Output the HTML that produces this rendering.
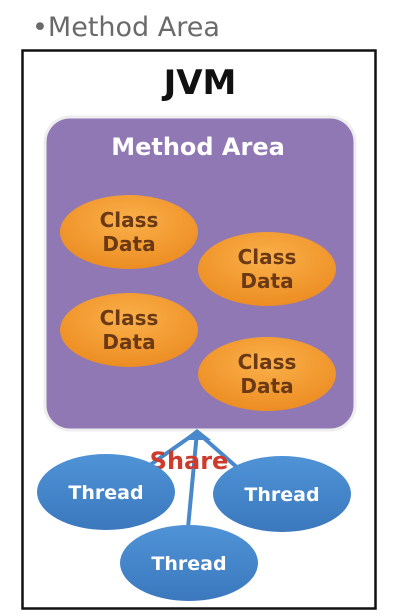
<!DOCTYPE html>
<html><head><style>
html,body{margin:0;padding:0;background:#fff;}
svg{display:block;}
text{font-family:"DejaVu Sans","Liberation Sans",sans-serif;}
</style></head><body>
<svg width="400" height="614" viewBox="0 0 400 614" xmlns="http://www.w3.org/2000/svg">
<defs>
<radialGradient id="og" cx="50%" cy="35%" r="65%">
<stop offset="0" stop-color="#fbb04a"/><stop offset="1" stop-color="#ec8d22"/>
</radialGradient>
<linearGradient id="bg" x1="0" y1="0" x2="0" y2="1">
<stop offset="0" stop-color="#4f93d6"/><stop offset="1" stop-color="#3b78bd"/>
</linearGradient>
</defs>
<text x="32" y="36" font-size="27" fill="#6a6a6a">•Method Area</text>
<rect x="22.5" y="50.5" width="353" height="558" fill="#fff" stroke="#111" stroke-width="2.5"/>
<text x="200" y="94" font-size="34" font-weight="bold" text-anchor="middle" fill="#111">JVM</text>
<rect x="45" y="117" width="310" height="313" rx="25" fill="#8f78b4" stroke="#eee" stroke-width="3"/>
<text x="198" y="155" font-size="24" font-weight="bold" text-anchor="middle" fill="#fff">Method Area</text>
<g font-size="20" font-weight="bold" fill="#6b3a14" text-anchor="middle">
<ellipse cx="129" cy="232" rx="69" ry="37" fill="url(#og)"/>
<text x="129" y="227">Class</text><text x="129" y="251">Data</text>
<ellipse cx="267" cy="269" rx="69" ry="37" fill="url(#og)"/>
<text x="267" y="264">Class</text><text x="267" y="288">Data</text>
<ellipse cx="129" cy="330" rx="69" ry="37" fill="url(#og)"/>
<text x="129" y="325">Class</text><text x="129" y="349">Data</text>
<ellipse cx="267" cy="374" rx="69" ry="37" fill="url(#og)"/>
<text x="267" y="369">Class</text><text x="267" y="393">Data</text>
</g>
<g stroke="#4a88cc" stroke-width="4" fill="none">
<line x1="150" y1="465" x2="197" y2="432"/>
<line x1="188" y1="528" x2="197" y2="432"/>
<line x1="240" y1="470" x2="197" y2="432"/>
</g>
<polygon points="197,429 183,440 211,440" fill="#4a88cc"/>
<text x="189" y="469" font-size="24" font-weight="bold" text-anchor="middle" fill="#cc3b2c">Share</text>
<g font-size="19" font-weight="bold" fill="#fff" text-anchor="middle">
<ellipse cx="106" cy="492" rx="69" ry="38" fill="url(#bg)"/>
<text x="106" y="499">Thread</text>
<ellipse cx="282" cy="494" rx="69" ry="38" fill="url(#bg)"/>
<text x="282" y="501">Thread</text>
<ellipse cx="189" cy="563" rx="69" ry="38" fill="url(#bg)"/>
<text x="189" y="570">Thread</text>
</g>
</svg>
</body></html>
